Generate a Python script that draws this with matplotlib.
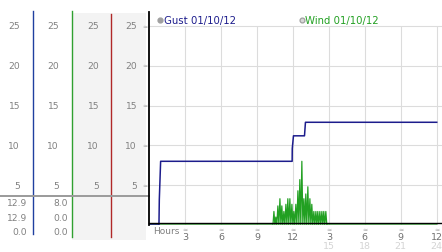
import matplotlib.pyplot as plt
from matplotlib import transforms
from matplotlib.patches import Rectangle

# data (hours since midnight, mph)
gust_hours = [0, 0.83, 0.86, 0.97, 11.94, 11.95, 12.05, 12.97, 13.05, 24]
gust_vals = [0, 0, 3.2, 8.0, 8.0, 9.6, 11.2, 11.2, 12.9, 12.9]

wind_spike_hours = [10.42, 10.58, 10.75, 10.92, 11.08, 11.25, 11.42, 11.58, 11.75,
                    11.92, 12.08, 12.25, 12.42, 12.58, 12.75, 12.92, 13.08, 13.25,
                    13.42, 13.58, 13.75, 13.92, 14.08, 14.25, 14.42, 14.58, 14.75]
wind_spike_vals = [1.7, 1.0, 2.4, 3.3, 2.4, 1.7, 2.6, 3.3, 3.3,
                   2.6, 1.7, 2.6, 4.3, 5.7, 8.0, 3.3, 3.9, 4.8,
                   3.3, 2.6, 1.7, 1.7, 1.7, 1.7, 1.7, 1.7, 1.7]

y_ticks = [5, 10, 15, 20, 25]
x_ticks = [3, 6, 9, 12, 15, 18, 21, 24]
x_labels = ['3', '6', '9', '12', '3', '6', '9', '12']
x_labels_24h = ['', '', '', '', '15', '18', '21', '24']
summary_gust = ['12.9', '12.9', '0.0']
summary_wind = ['8.0', '0.0', '0.0']
legend_names = ['Gust 01/10/12', 'Wind 01/10/12']

navy = '#1c1c8c'
green = '#22a022'
W, H = 442, 253

# wind drawn as zig-zag: each reading followed by a zero reading
wind_hours = [0, 10.34]
wind_vals = [0, 0]
for h, v in zip(wind_spike_hours, wind_spike_vals):
    wind_hours += [h, h + 0.083]
    wind_vals += [v, 0]
wind_hours.append(24)
wind_vals.append(0)

fig = plt.figure(figsize=(W / 100, H / 100), dpi=100)
fig.patch.set_facecolor('white')

# pixel-space overlay for the left-hand panel
bg = fig.add_axes([0, 0, 1, 1])
bg.set_xlim(0, W)
bg.set_ylim(H, 0)
bg.axis('off')

ax = fig.add_axes([149 / W, (H - 226) / H, (W - 149) / W, (226 - 13) / H])
ax.set_xlim(0, 24.44)
ax.set_ylim(0, 26.75)
ax.set_facecolor('none')
for s in ['top', 'right']:
    ax.spines[s].set_visible(False)
ax.spines['left'].set_linewidth(1.3)
ax.spines['bottom'].set_linewidth(1.0)
ax.spines['bottom'].set_position(('data', 0.2))
ax.spines['left'].set_zorder(5)
ax.spines['bottom'].set_zorder(5)
ax.set_xticks([])
ax.set_yticks([])

# grid
for y in y_ticks:
    ax.axhline(y, color='#dcdcdc', lw=0.8, zorder=0)
ax.vlines(x_ticks, 0, max(y_ticks), color='#dcdcdc', lw=0.8, zorder=0)

ax.plot(wind_hours, wind_vals, color=green, lw=0.9, zorder=3)
ax.plot(gust_hours, gust_vals, color=navy, lw=1.1, zorder=4)

# small tick markers
for y in y_ticks:
    ax.text(-0.15, y, '≈', fontsize=4.5, color='#a0a0a0', ha='right', va='center', clip_on=False)
for x in x_ticks:
    ax.text(x, -0.6, '≈', fontsize=4.5, color='#a0a0a0', ha='center', va='center', clip_on=False)

# x labels
for x, lab, lab2 in zip(x_ticks, x_labels, x_labels_24h):
    ax.text(x, -1.45, lab, fontsize=6.8, color='#707070', ha='center', va='center', clip_on=False)
    if lab2:
        ax.text(x, -2.6, lab2, fontsize=6.8, color='#d4d4d4', ha='center', va='center', clip_on=False)
bg.text(153, 232, 'Hours', fontsize=6.5, color='#808080', ha='left', va='center')

# legend
ax.plot([0.95], [25.8], 'o', ms=3.5, color='#a0a0a0', clip_on=False)
ax.text(1.25, 25.8, legend_names[0], fontsize=7.3, color=navy, ha='left', va='center')
ax.plot([12.8], [25.8], 'o', ms=3.5, color='#a0a0a0', clip_on=False, mfc='#d8d8d8', mew=0.9)
ax.text(13.05, 25.8, legend_names[1], fontsize=7.3, color=green, ha='left', va='center')

# left panel: shaded columns, coloured separators, scale labels
bg.add_patch(Rectangle((72, 14), 74, 227, color='#f3f3f3', lw=0, zorder=0))
bg.plot([33, 33], [12, 235], color='#2040a0', lw=1.0)
bg.plot([72, 72], [12, 238], color='#30a030', lw=1.0)
bg.plot([111, 111], [15, 238], color='#b02828', lw=1.0)
bg.plot([0, 149], [197, 197], color='#9a9a9a', lw=1.4)

mixed = transforms.blended_transform_factory(bg.transData, ax.transData)
for y in y_ticks:
    for xr in [20, 59, 99, 137]:
        bg.text(xr, y, str(y), transform=mixed, fontsize=6.6, color='#808080',
                ha='right', va='center')

for row, yy in enumerate([204, 219, 233]):
    bg.text(27, yy, summary_gust[row], fontsize=6.6, color='#808080', ha='right', va='center')
    bg.text(68, yy, summary_wind[row], fontsize=6.6, color='#808080', ha='right', va='center')

fig.savefig('out.png', dpi=100)
